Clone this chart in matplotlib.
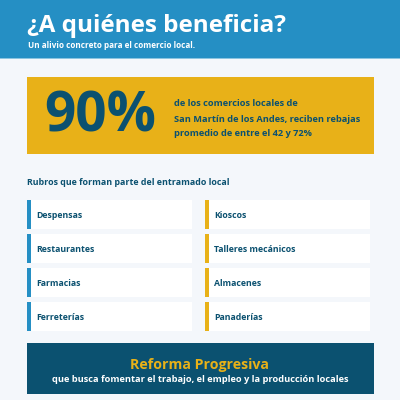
import matplotlib
matplotlib.use("Agg")
import matplotlib.pyplot as plt
from matplotlib.patches import Rectangle

title = "¿A quiénes beneficia?"
subtitle = "Un alivio concreto para el comercio local."
big_value = "90%"
big_lines = ["de los comercios locales de",
             "San Martín de los Andes, reciben rebajas",
             "promedio de entre el 42 y 72%"]
section = "Rubros que forman parte del entramado local"
left_items = ["Despensas", "Restaurantes", "Farmacias", "Ferreterías"]
right_items = ["Kioscos", "Talleres mecánicos", "Almacenes", "Panaderías"]
footer_title = "Reforma Progresiva"
footer_sub = "que busca fomentar el trabajo, el empleo y la producción locales"

BLUE = "#258fc4"; NAVY = "#0b5170"; GOLD = "#e8b118"; BG = "#f4f7fb"
plt.rcParams['font.family'] = ['Open Sans', 'DejaVu Sans']

fig = plt.figure(figsize=(4, 4), dpi=100, facecolor=BG)
ax = fig.add_axes([0, 0, 1, 1])
ax.set_xlim(0, 400); ax.set_ylim(400, 0); ax.axis("off")

def box(x0, y0, x1, y1, c):
    ax.add_patch(Rectangle((x0, y0), x1 - x0, y1 - y0, fc=c, ec="none"))

def txt(x, y, s, size, c, ha="left", w="bold"):
    ax.text(x, y, s, fontsize=size, color=c, ha=ha, va="center", fontweight=w)

box(0, 0, 400, 58, BLUE)
box(0, 58, 400, 59, "#8cc4e0")
txt(27, 26.5, title, 17.5, "white")
txt(27.5, 46, subtitle, 5.9, "white")

box(27, 77, 374, 154, GOLD)
txt(44, 116.5, big_value, 39.5, NAVY)
for y, s in zip([104, 119, 133.5], big_lines):
    txt(174, y, s, 6.65, NAVY)

txt(27, 182.5, section, 6.4, NAVY)

ys = [199.5, 233.5, 267.5, 301.5]
for x0, items, c in [(27, left_items, BLUE), (204.5, right_items, GOLD)]:
    for y, s in zip(ys, items):
        box(x0, y, x0 + 165, y + 29.5, "white")
        box(x0, y, x0 + 4, y + 29.5, c)
        txt(x0 + 9.5, y + 15.5, s, 6.3, NAVY)

box(27, 343, 374, 394, NAVY)
txt(200, 364.5, footer_title, 10.2, GOLD, ha="center")
txt(200, 379, footer_sub, 6.65, "white", ha="center")

fig.savefig("out.png", dpi=100, facecolor=BG)
